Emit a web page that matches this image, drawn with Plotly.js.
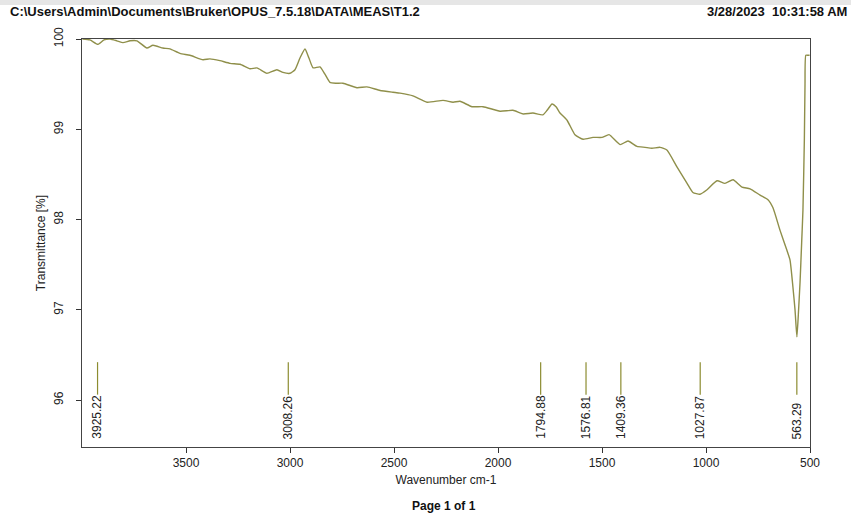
<!DOCTYPE html>
<html>
<head>
<meta charset="utf-8">
<script src="https://cdn.plot.ly/plotly-3.0.1.min.js"></script>
<style>html,body{margin:0;padding:0;background:#fff;}#chart{width:851px;height:516px;}</style>
</head>
<body>
<div id="chart"></div>
<script>
// Spectrum (wavenumber cm-1 vs transmittance %)
var wavenumber = [3998,3962,3923,3894,3865,3832,3803,3769,3736,3688,3659,3611,3577,3529,3481,3418,3385,3337,3288,3240,3192,3159,3111,3063,3034,3000,2976,2952,2928,2909,2889,2856,2832,2808,2779,2745,2678,2630,2567,2505,2471,2409,2341,2264,2216,2183,2125,2072,1990,1928,1880,1832,1784,1764,1740,1721,1702,1668,1630,1591,1543,1500,1466,1413,1375,1332,1293,1260,1221,1188,1139,1091,1063,1029,995,947,909,870,827,788,740,702,678,644,611,596,582,572,563,556,548,540,534,527,524,520,510,502];
var transmittance = [100.0,99.99,99.94,99.99,100.0,99.98,99.96,99.98,99.98,99.90,99.93,99.90,99.89,99.84,99.82,99.77,99.78,99.76,99.73,99.72,99.67,99.68,99.62,99.66,99.63,99.62,99.66,99.79,99.89,99.79,99.68,99.69,99.61,99.52,99.51,99.51,99.46,99.47,99.43,99.41,99.40,99.37,99.30,99.32,99.30,99.31,99.25,99.25,99.20,99.21,99.17,99.18,99.16,99.21,99.28,99.25,99.18,99.10,98.94,98.89,98.91,98.91,98.94,98.83,98.87,98.81,98.80,98.79,98.80,98.77,98.58,98.40,98.30,98.28,98.33,98.43,98.40,98.44,98.36,98.34,98.27,98.22,98.13,97.88,97.66,97.55,97.25,97.00,96.70,96.95,97.30,97.75,98.10,98.90,99.50,99.82,99.82,99.82];

// Peak picks
var peakPositions = [3925.22, 3008.26, 1794.88, 1576.81, 1409.36, 1027.87, 563.29];
var peakLabels = ["3925.22", "3008.26", "1794.88", "1576.81", "1409.36", "1027.87", "563.29"];

// Axis ticks
var xTicks = [3500, 3000, 2500, 2000, 1500, 1000, 500];
var yTicks = [96, 97, 98, 99, 100];

var headerLeft = "C:\\Users\\Admin\\Documents\\Bruker\\OPUS_7.5.18\\DATA\\MEAS\\T1.2";
var headerRight = "3/28/2023  10:31:58 AM";
var footer = "Page 1 of 1";

var FONT = "'Liberation Sans', Arial, sans-serif";
var LINE = "#8f8f4a";

var trace = {
  x: wavenumber, y: transmittance, type: "scatter", mode: "lines",
  line: {color: LINE, width: 1.4, shape: "spline", smoothing: 0.5},
  hoverinfo: "skip", showlegend: false
};

var shapes = [{
  type: "rect", xref: "paper", yref: "paper",
  x0: -82/728, x1: 1 + 41/728, y0: 1 + 34/408, y1: 1 + 39/408,
  fillcolor: "#e6e6e6", line: {width: 0}, layer: "below"
}];
peakPositions.forEach(function (p) {
  shapes.push({type: "line", xref: "x", yref: "y", x0: p, x1: p, y0: 96.06, y1: 96.42,
    line: {color: "#8c8c30", width: 1.2}});
});

var annotations = peakPositions.map(function (p, i) {
  return {x: p, y: 95.545, xref: "x", yref: "y", text: peakLabels[i], textangle: -90,
    showarrow: false, xanchor: "center", yanchor: "bottom",
    font: {family: FONT, size: 12, color: "#222"}};
});
annotations.push({xref: "paper", yref: "paper", x: -74/728, y: 1 + 28/408, text: "<b>" + headerLeft + "</b>",
  showarrow: false, xanchor: "left", yanchor: "middle", font: {family: FONT, size: 13, color: "#111"}});
annotations.push({xref: "paper", yref: "paper", x: 1 + 39/728, y: 1 + 28/408, text: "<b>" + headerRight + "</b>",
  showarrow: false, xanchor: "right", yanchor: "middle", font: {family: FONT, size: 13, color: "#111"}});
annotations.push({xref: "paper", yref: "paper", x: (444-82)/728, y: -59/408, text: "<b>" + footer + "</b>",
  showarrow: false, xanchor: "center", yanchor: "middle", font: {family: FONT, size: 12, color: "#111"}});

var layout = {
  width: 851, height: 516,
  margin: {l: 82, r: 41, t: 39, b: 69, pad: 0},
  paper_bgcolor: "#fff", plot_bgcolor: "#fff",
  font: {family: FONT, size: 12, color: "#222"},
  xaxis: {
    range: [4000, 500], tickvals: xTicks, ticktext: xTicks.map(String),
    ticks: "outside", ticklen: 5, tickcolor: "#333", tickwidth: 1,
    showline: true, mirror: true, linecolor: "#444", linewidth: 1,
    showgrid: false, zeroline: false, automargin: false,
    tickfont: {family: FONT, size: 12, color: "#222"},
    title: {text: "Wavenumber cm-1", font: {family: FONT, size: 12, color: "#222"}, standoff: 6}
  },
  yaxis: {
    range: [95.48, 100], tickvals: yTicks, ticktext: yTicks.map(String), tickangle: -90,
    ticks: "outside", ticklen: 5, tickcolor: "#333", tickwidth: 1,
    showline: true, mirror: true, linecolor: "#444", linewidth: 1,
    showgrid: false, zeroline: false, automargin: false, ticklabelstandoff: 8,
    tickfont: {family: FONT, size: 12, color: "#222"},
    title: {text: "Transmittance [%]", font: {family: FONT, size: 12, color: "#222"}, standoff: 4}
  },
  shapes: shapes,
  annotations: annotations
};

Plotly.newPlot("chart", [trace], layout, {staticPlot: true, displayModeBar: false});
</script>
</body>
</html>
